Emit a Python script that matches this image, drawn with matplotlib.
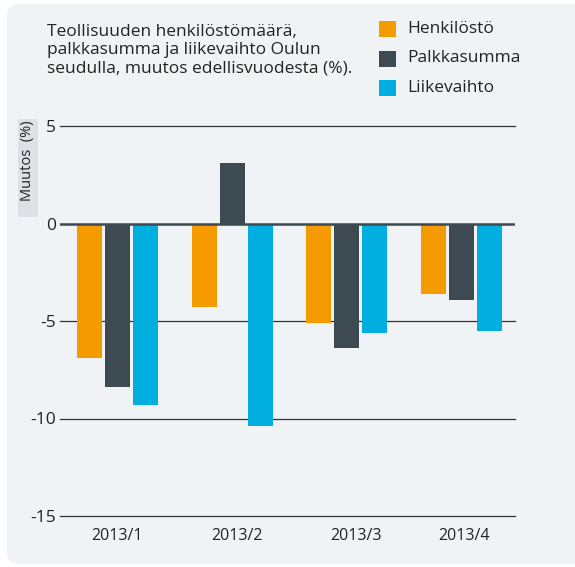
import matplotlib.pyplot as plt
from matplotlib.patches import FancyBboxPatch, Rectangle
import numpy as np

plt.rcParams['font.family'] = ['Open Sans', 'DejaVu Sans']

quarters = ['2013/1', '2013/2', '2013/3', '2013/4']
henkilosto = [-6.9, -4.3, -5.1, -3.6]
palkkasumma = [-8.4, 3.1, -6.4, -3.9]
liikevaihto = [-9.3, -10.4, -5.6, -5.5]
series_names = ['Henkilöstö', 'Palkkasumma', 'Liikevaihto']
colors = ['#f59b00', '#3d4a52', '#00aee0']
yticks = [5, 0, -5, -10, -15]

W, H = 575, 567
fig = plt.figure(figsize=(W / 100, H / 100), dpi=100)
fig.patch.set_facecolor('white')

# grey rounded panel behind everything
panel = FancyBboxPatch((7 / W, 3 / H), 600 / W, 560 / H,
                       boxstyle='round,pad=0,rounding_size=0.02',
                       transform=fig.transFigure, facecolor='#f0f3f5',
                       edgecolor='none', zorder=-5)
fig.patches.append(panel)

ax = fig.add_axes([60 / W, 1 - 516 / H, 455 / W, 390 / H])
ax.set_facecolor('none')
ax.set_zorder(2)

x = np.arange(len(quarters))
bw = 25 / 114.67
step = 28 / 114.67
for i, (vals, c) in enumerate(zip([henkilosto, palkkasumma, liikevaihto], colors)):
    ax.bar(x + (i - 1) * step, vals, width=bw, color=c, zorder=2)

for v in yticks:
    if v == 0:
        ax.axhline(0, color='#3d4a52', lw=1.8, zorder=3)
    else:
        ax.axhline(v, color='#333333', lw=0.9, zorder=1, clip_on=False)

ax.set_ylim(-15, 5)
ax.set_xlim(-0.501, 3.466)
ax.set_yticks(yticks)
ax.set_yticklabels([str(v) for v in yticks], fontsize=12.5, color='#222222')
# labels sit slightly off the group centres in the original
ax.set_xticks([0, 1.04, 2.08, 3.02])
ax.set_xticklabels(quarters, fontsize=11.5, color='#222222')
ax.tick_params(length=0, pad=9)
ax.tick_params(axis='y', pad=3)
for s in ax.spines.values():
    s.set_visible(False)

# y label in a small grey box
fig.patches.append(Rectangle((18 / W, 1 - 217 / H), 20 / W, 98 / H,
                             transform=fig.transFigure, facecolor='#dde1e5',
                             edgecolor='none', zorder=-1))
fig.text(28 / W, 1 - 120 / H, 'Muutos  (%)', rotation=90, ha='center',
         va='top', fontsize=10.5, color='#222222')

fig.text(47 / W, 1 - 24 / H,
         'Teollisuuden henkilöstömäärä,\npalkkasumma ja liikevaihto Oulun\nseudulla, muutos edellisvuodesta (%).',
         ha='left', va='top', fontsize=12.5, color='#222222', linespacing=1.2)

for i, (name, c) in enumerate(zip(series_names, colors)):
    yc = 1 - (29 + i * 29.5) / H
    fig.patches.append(Rectangle((379 / W, yc - 8 / H), 17 / W, 16 / H,
                                 transform=fig.transFigure, facecolor=c,
                                 edgecolor='none'))
    fig.text(407 / W, yc, name, ha='left', va='center', fontsize=12.5,
             color='#222222')

fig.savefig('out.png', dpi=100)
